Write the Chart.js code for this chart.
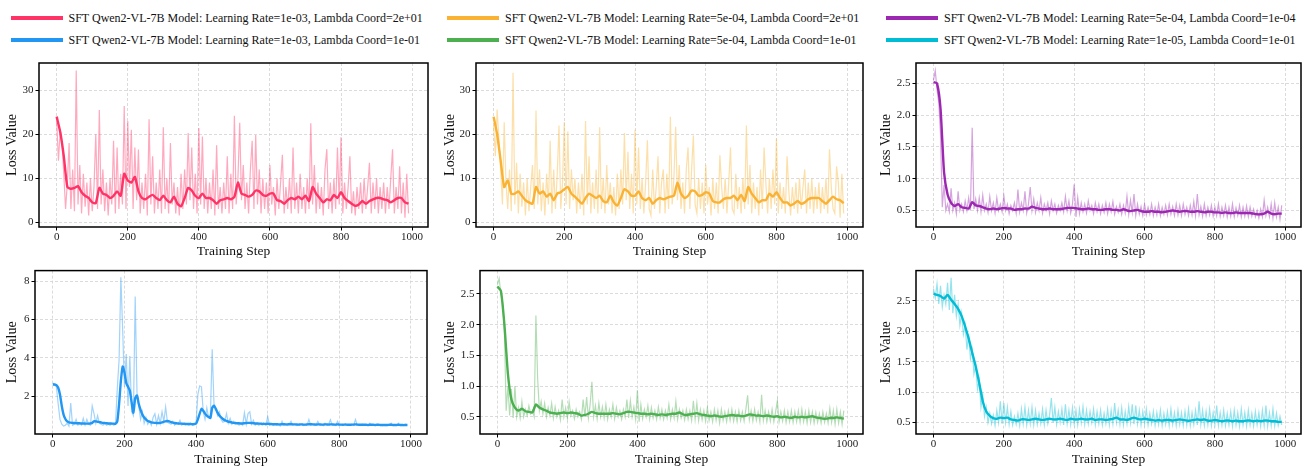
<!DOCTYPE html>
<html>
<head>
<meta charset="utf-8">
<script src="https://cdn.jsdelivr.net/npm/chart.js@4.4.1/dist/chart.umd.min.js"></script>
<style>
    body { margin: 0; background: #fff; }
    #wrap { position: relative; width: 1310px; height: 466px; overflow: hidden; font-family: 'Liberation Serif', 'Times New Roman', serif; }
    .leg { position: absolute; font-size: 12px; color: #111; white-space: nowrap; height: 14px; line-height: 14px; }
    .leg i { position: absolute; left: 0; top: 5px; width: 52px; height: 4px; }
    .leg span { position: absolute; left: 58px; top: 0; }
    canvas { position: absolute; }
</style>
</head>
<body>
<div id="wrap"></div>
<script>
// Runs, in panel order (row-major)
const runLabels = [
    'SFT Qwen2-VL-7B Model: Learning Rate=1e-03, Lambda Coord=2e+01',
    'SFT Qwen2-VL-7B Model: Learning Rate=5e-04, Lambda Coord=2e+01',
    'SFT Qwen2-VL-7B Model: Learning Rate=5e-04, Lambda Coord=1e-04',
    'SFT Qwen2-VL-7B Model: Learning Rate=1e-03, Lambda Coord=1e-01',
    'SFT Qwen2-VL-7B Model: Learning Rate=5e-04, Lambda Coord=1e-01',
    'SFT Qwen2-VL-7B Model: Learning Rate=1e-05, Lambda Coord=1e-01'
];
const runColors = ['#ff3366', '#f9b233', '#9c27b0', '#2196f3', '#4caf50', '#00bcd4'];

const xTicks = [0, 200, 400, 600, 800, 1000];
const yTicksLarge = [0, 10, 20, 30];
const yTicksBlue = [2, 4, 6, 8];
const yTicksSmall = [0.5, 1.0, 1.5, 2.0, 2.5];

// raw loss, one value every 5 steps (0..990)
const redRaw = [
    23,14,21,18,11,3,9,18,3,12,2.5,34.5,4,13,2,11,3.5,9,1.5,10,
    2.5,8,20,3,25.5,4,12,2.5,9,1.5,10,4,18.5,2,17,3,11,4,26.4,3,
    23,8,21,3,17,5,16.5,2,9,3,11,1.5,23.4,4,15,2,9,3,12,2,
    21.6,3,10,2,18,4,9,2,8,1.5,11,3,12,4,20.3,5,17,3,11,2,
    21.4,4,19.5,3,10,2,9,3,12,1.5,17.5,3,8,2,9,3,15,2,11,3,
    24.2,4,10,22.6,5,13,3,9,2,12,18.5,3,19.8,4,12,2,10,3,9,2,
    13,4,8,1.5,10,3,9,15.3,2,8,3,10,2,17,3,9,2,11,3,8,
    2,10,3,22.5,4,13,2,9,3,8,1.5,12,16.6,3,9,2,10,3,17,4,
    19.3,2,9,3,8,15,2,7,1.5,8,3,9,2,10,3,8,13.5,2,9,3,
    10,2,8,3,9,2,8,3,10,16.6,2,8,3,12.7,2,9,1,11,2
];
const orangeRaw = [
    22,15,25.6,19,12,4,22.7,9,3,12,2.5,34,4,13.5,2,11,3.5,9,1.5,10,
    2.5,8,13,3,25.4,4,12,2.5,9,1.5,11,4,18.5,2,12,3,11,22,3,9,
    22.8,4,20.6,3,12,5,10,2,9,3,11,1.5,23,4,15,2,9,3,12,2,
    21.6,3,10,2,13,4,9,2,8,1.5,11,3,12,4,20.3,5,16,3,11,2,
    21,4,17,3,10,2,9,18.6,3,1.5,12,3,8,15,2,9,12,2,11,3,
    24,4,10,21.7,5,13,3,9,2,12,17,3,12,19.7,4,2,10,3,9,2,
    13,4,8,1.5,10,3,9,2,15.2,8,3,10,2,9,17,3,2,11,3,8,
    2,10,3,22,4,13,2,9,3,8,1.5,12,3,17,9,2,10,3,12,4,
    19,2,9,3,8,2,15,7,1.5,8,3,9,2,10,3,8,12,2,9,3,
    10,2,8,3,9,2,8,3,10,2,16.6,8,3,2,12.7,9,1,11,2
];
const purpleRaw = [
    2.55,2.7,2.4,2.2,1.7,0.55,0.9,0.5,0.6,0.48,0.85,0.5,0.62,0.45,0.8,0.5,0.6,0.48,0.65,0.5,
    0.7,0.5,1.8,0.52,0.68,0.5,0.7,0.48,0.74,0.5,0.6,0.47,0.72,0.5,0.62,0.46,0.7,0.5,0.6,0.48,
    0.73,0.5,0.6,0.45,0.58,0.5,0.62,0.46,0.83,0.48,0.62,0.5,0.8,0.46,0.6,0.87,0.5,0.68,0.47,0.62,
    0.5,0.7,0.46,0.6,0.5,0.62,0.45,0.65,0.5,0.6,0.46,0.58,0.5,0.62,0.48,0.72,0.5,0.65,0.46,0.6,
    0.91,0.4,0.7,0.45,0.62,0.48,0.6,0.46,0.65,0.5,0.58,0.45,0.62,0.48,0.6,0.45,0.58,0.47,0.62,0.45,
    0.6,0.48,0.64,0.44,0.56,0.47,0.6,0.44,0.58,0.46,0.72,0.44,0.66,0.47,0.76,0.42,0.6,0.44,0.56,0.42,
    0.6,0.43,0.55,0.44,0.6,0.42,0.55,0.43,0.6,0.42,0.55,0.44,0.58,0.43,0.6,0.44,0.56,0.42,0.6,0.43,
    0.58,0.42,0.6,0.44,0.55,0.42,0.58,0.43,0.64,0.42,0.76,0.43,0.56,0.41,0.6,0.42,0.55,0.43,0.58,0.41,
    0.55,0.42,0.6,0.41,0.55,0.42,0.58,0.4,0.55,0.41,0.6,0.4,0.54,0.42,0.58,0.4,0.55,0.41,0.57,0.4,
    0.55,0.41,0.52,0.4,0.5,0.38,0.52,0.4,0.66,0.42,0.55,0.4,0.6,0.38,0.62,0.4,0.55,0.36,0.58
];
const blueRaw = [
    2.7,2.6,2.5,1.6,0.8,0.55,0.45,0.5,0.6,0.45,1.65,0.5,0.55,0.8,0.5,0.6,0.5,0.85,0.5,0.8,
    0.55,0.5,1.5,1.1,0.6,1.0,0.6,0.55,0.5,0.6,0.5,0.55,0.5,0.6,0.5,0.55,2.4,3.9,8.2,5.5,
    2.5,4.2,1.5,4.1,1.2,1.0,7.2,2.2,1.5,0.8,1.2,0.6,0.9,0.55,0.7,0.5,0.9,1.1,0.55,1.0,
    0.6,1.2,0.7,1.45,0.65,0.6,0.55,0.7,0.5,0.6,0.55,0.75,0.5,0.6,0.5,0.55,0.5,0.6,0.5,0.55,
    0.6,2.1,2.55,2.5,1.2,0.8,1.4,0.9,1.0,4.45,1.6,1.4,1.0,1.2,0.8,0.65,0.7,1.1,0.6,0.85,
    0.55,0.7,0.55,0.6,0.5,0.6,0.5,1.15,0.55,1.1,1.2,0.55,0.75,0.5,0.6,0.5,0.55,0.5,0.55,0.5,
    0.95,0.5,0.55,0.48,0.55,0.5,0.52,0.45,0.7,0.5,0.52,0.48,0.55,0.7,0.5,0.55,0.48,0.52,0.5,0.55,
    0.48,0.52,0.5,0.8,0.5,0.55,0.48,0.52,0.7,0.5,0.55,0.48,0.6,0.5,0.55,0.78,0.5,0.55,0.48,0.7,
    0.5,0.52,0.48,0.55,0.5,0.52,0.48,0.55,0.5,0.8,0.5,0.52,0.48,0.55,0.5,0.52,0.48,0.6,0.5,0.52,
    0.48,0.55,0.5,0.52,0.48,0.5,0.48,0.52,0.5,0.6,0.48,0.52,0.5,0.6,0.48,0.52,0.48,0.55,0.5
];
const greenRaw = [
    2.65,2.75,2.5,2.35,1.9,0.6,1.0,0.52,0.95,0.48,1.0,0.5,0.65,0.48,0.75,0.5,0.62,0.52,0.68,0.55,
    0.6,0.5,2.15,1.12,0.6,0.75,0.55,0.72,0.5,0.65,0.52,0.72,0.48,0.66,0.5,0.6,0.45,0.78,0.5,0.65,
    0.48,0.74,0.52,0.6,0.47,0.62,0.5,0.58,0.46,0.78,0.5,0.82,0.48,0.7,1.07,0.5,0.68,0.47,0.72,0.5,
    0.66,0.48,0.7,0.46,0.62,0.5,0.7,0.47,0.65,0.5,0.6,0.46,0.62,0.5,0.78,0.48,0.76,0.5,0.66,0.46,
    0.93,0.42,0.7,0.47,0.62,0.5,0.68,0.46,0.65,0.48,0.6,0.46,0.66,0.48,0.62,0.46,0.6,0.48,0.7,0.46,
    0.62,0.48,0.75,0.46,0.62,0.48,0.6,0.45,0.62,0.46,0.6,0.44,0.76,0.46,0.72,0.44,0.62,0.45,0.6,0.43,
    0.65,0.44,0.58,0.42,0.62,0.44,0.6,0.4,0.62,0.44,0.58,0.42,0.6,0.44,0.62,0.43,0.58,0.42,0.6,0.44,
    0.58,0.43,0.62,0.85,0.45,0.6,0.43,0.62,0.44,0.58,0.42,0.86,0.44,0.6,0.42,0.58,0.43,0.62,0.42,0.58,
    0.76,0.42,0.58,0.43,0.6,0.41,0.58,0.42,0.6,0.41,0.58,0.42,0.6,0.41,0.62,0.42,0.58,0.4,0.6,0.41,
    0.58,0.4,0.57,0.41,0.55,0.4,0.58,0.41,0.55,0.4,0.64,0.41,0.6,0.38,0.62,0.4,0.58,0.38,0.6
];
const cyanRaw = [
    2.7,2.55,2.78,2.45,2.75,2.4,2.6,2.45,2.8,2.35,2.88,2.3,2.6,2.25,2.45,2.1,2.3,1.95,2.1,1.7,
    1.95,1.55,1.7,1.3,1.45,1.05,1.2,0.75,0.95,0.6,0.75,0.5,0.65,0.48,0.62,0.45,0.7,0.5,0.85,0.48,
    0.82,0.5,0.75,0.47,0.68,0.46,0.6,0.47,0.65,0.45,0.72,0.48,0.75,0.46,0.7,0.48,0.75,0.46,0.7,0.47,
    0.65,0.48,0.72,0.46,0.7,0.48,0.62,0.9,0.5,0.75,0.47,0.68,0.5,0.72,0.46,0.8,0.48,0.7,0.47,0.74,
    0.48,0.7,0.46,0.72,0.5,0.76,0.47,0.7,0.48,0.68,0.5,0.72,0.46,0.68,0.48,0.7,0.46,0.65,0.48,0.72,
    0.46,0.7,0.48,0.82,0.5,0.7,0.47,0.74,0.46,0.68,0.48,0.76,0.5,0.8,0.47,0.78,0.48,0.7,0.46,0.68,
    0.48,0.72,0.46,0.65,0.48,0.68,0.45,0.66,0.47,0.7,0.45,0.65,0.47,0.68,0.45,0.72,0.47,0.66,0.45,0.7,
    0.47,0.66,0.45,0.68,0.46,0.72,0.45,0.66,0.47,0.7,0.46,0.85,0.47,0.7,0.45,0.68,0.46,0.72,0.45,0.66,
    0.47,0.78,0.45,0.66,0.46,0.7,0.45,0.65,0.46,0.68,0.44,0.7,0.46,0.66,0.44,0.72,0.46,0.66,0.44,0.7,
    0.46,0.65,0.44,0.68,0.46,0.66,0.44,0.7,0.45,0.78,0.44,0.66,0.45,0.72,0.44,0.65,0.45,0.6,0.46
];

// smoothed loss, one value every 10 steps (blue: every 5 steps)
const redSmooth = [
    24,20.5,15,8,7.6,7.8,8.2,6.8,6,5.5,
    4.5,4.3,7.8,6.5,6.2,5.5,6,7,6,11,
    9.5,9,10.3,7,5.5,5.2,5.8,6.2,5.5,5,
    6,5,4.5,5.8,4.2,3.6,5.5,7.8,7.2,6,
    5.5,6.5,5.5,5.5,5,4.2,5,5.2,5.5,5.2,
    5.8,9,6.5,6.2,5.8,6.2,7.2,7,6.2,6,
    6.5,6.5,5,4.8,4.2,5,5.5,5.2,5.8,5.2,
    6,4.8,8,6.5,5.5,4.5,5.2,5,6.2,5.5,
    6.8,5.5,4.8,4.2,3.7,4,4.8,4.2,4.8,5.2,
    5.5,5.5,5.2,5,4.5,5,5.5,5.5,4.5,4.2
];
const orangeSmooth = [
    24,20,14,8,9.5,6.5,6.5,7,6,5,
    4.5,4.2,8,6.5,7,5.8,6.5,5,6.5,6.8,
    7.5,8,6.5,5.8,5,4.2,5.5,6.5,6,5.5,
    6,4.8,4.5,6,4.5,3.8,5.5,7.5,7,6,
    6,7,5.5,5,5.5,4.2,5,5.5,5.2,5.5,
    5.8,6,9,6.5,5.5,6,7.2,7,6,6.2,
    6.8,6.5,4.8,4.5,4.5,5.2,5.5,5.5,6,5,
    6.2,4.8,8,6.5,5.5,4.5,5,5,6.5,5.8,
    6.8,5.5,4.5,4.5,3.8,4.2,4.8,4.2,4.5,5.2,
    5.5,5.5,5.5,4.8,4.2,5,5.8,5.2,5,4.3
];
const purpleSmooth = [
    2.52,2.5,2.1,1.1,0.75,0.62,0.57,0.6,0.55,0.54,
    0.53,0.63,0.58,0.57,0.55,0.53,0.52,0.53,0.52,0.53,
    0.54,0.53,0.53,0.51,0.52,0.52,0.53,0.53,0.56,0.54,
    0.53,0.52,0.52,0.53,0.52,0.52,0.52,0.53,0.54,0.54,
    0.54,0.53,0.52,0.52,0.53,0.52,0.52,0.51,0.51,0.52,
    0.52,0.51,0.51,0.5,0.52,0.5,0.49,0.5,0.51,0.49,
    0.48,0.48,0.49,0.48,0.48,0.47,0.48,0.49,0.5,0.49,
    0.48,0.49,0.49,0.48,0.48,0.49,0.48,0.47,0.48,0.48,
    0.47,0.47,0.46,0.47,0.46,0.46,0.47,0.46,0.46,0.46,
    0.46,0.45,0.44,0.44,0.45,0.48,0.45,0.44,0.45,0.45
];
const blueSmooth = [
    2.62,2.62,2.58,2.45,2.1,1.5,1.05,0.82,0.7,0.65,0.63,0.62,0.61,0.6,0.6,0.6,0.59,0.59,0.58,0.58,
    0.58,0.59,0.62,0.7,0.7,0.68,0.66,0.64,0.62,0.61,0.6,0.59,0.59,0.58,0.58,0.57,0.7,1.6,2.8,3.55,
    3.25,2.7,2.5,2.3,1.7,1.15,1.9,2.05,1.6,1.3,1.05,0.9,0.8,0.72,0.68,0.65,0.63,0.62,0.61,0.61,
    0.62,0.64,0.68,0.7,0.72,0.7,0.66,0.63,0.61,0.6,0.59,0.58,0.58,0.57,0.57,0.56,0.56,0.56,0.55,0.56,
    0.58,0.8,1.1,1.35,1.25,1.1,1.0,0.92,0.88,1.4,1.52,1.35,1.15,1.0,0.9,0.82,0.76,0.72,0.68,0.66,
    0.64,0.62,0.61,0.6,0.6,0.59,0.59,0.6,0.61,0.62,0.62,0.61,0.6,0.59,0.59,0.58,0.58,0.57,0.57,0.56,
    0.57,0.56,0.56,0.55,0.55,0.55,0.54,0.54,0.55,0.55,0.54,0.54,0.55,0.55,0.54,0.54,0.54,0.53,0.54,0.54,
    0.53,0.53,0.54,0.55,0.55,0.54,0.54,0.53,0.54,0.54,0.53,0.53,0.54,0.54,0.53,0.54,0.54,0.53,0.53,0.54,
    0.53,0.53,0.52,0.53,0.53,0.52,0.52,0.53,0.53,0.54,0.53,0.52,0.52,0.52,0.52,0.52,0.51,0.52,0.52,0.52,
    0.51,0.52,0.52,0.51,0.51,0.51,0.51,0.51,0.52,0.52,0.51,0.51,0.51,0.52,0.51,0.51,0.5,0.51,0.51
];
const greenSmooth = [
    2.62,2.55,2.0,1.2,0.78,0.65,0.6,0.63,0.59,0.58,
    0.57,0.7,0.65,0.62,0.6,0.57,0.56,0.55,0.56,0.57,
    0.56,0.57,0.56,0.55,0.52,0.53,0.55,0.58,0.56,0.55,
    0.55,0.55,0.55,0.56,0.55,0.54,0.56,0.58,0.58,0.57,
    0.56,0.55,0.55,0.54,0.55,0.54,0.53,0.54,0.53,0.54,
    0.55,0.55,0.57,0.54,0.53,0.54,0.55,0.56,0.54,0.53,
    0.52,0.51,0.52,0.51,0.5,0.51,0.52,0.53,0.52,0.52,
    0.51,0.52,0.54,0.53,0.52,0.52,0.51,0.52,0.51,0.5,
    0.51,0.49,0.5,0.49,0.48,0.5,0.49,0.5,0.49,0.5,
    0.51,0.49,0.48,0.47,0.47,0.48,0.48,0.49,0.48,0.47
];
const cyanSmooth = [
    2.62,2.6,2.58,2.54,2.6,2.52,2.45,2.37,2.25,2.08,
    1.88,1.65,1.42,1.15,0.85,0.68,0.61,0.57,0.56,0.58,
    0.57,0.58,0.55,0.54,0.53,0.55,0.55,0.54,0.55,0.56,
    0.55,0.54,0.55,0.56,0.55,0.55,0.56,0.55,0.54,0.56,
    0.55,0.55,0.56,0.55,0.55,0.56,0.54,0.55,0.55,0.54,
    0.55,0.56,0.58,0.55,0.55,0.54,0.56,0.58,0.56,0.55,
    0.56,0.55,0.54,0.53,0.54,0.53,0.54,0.54,0.53,0.54,
    0.55,0.54,0.53,0.53,0.54,0.55,0.54,0.55,0.53,0.53,
    0.54,0.53,0.52,0.53,0.53,0.52,0.53,0.52,0.52,0.53,
    0.53,0.52,0.53,0.52,0.53,0.53,0.52,0.52,0.51,0.51
];

const rawSeries = [redRaw, orangeRaw, purpleRaw, blueRaw, greenRaw, cyanRaw];
const smoothSeries = [redSmooth, orangeSmooth, purpleSmooth, blueSmooth, greenSmooth, cyanSmooth];
const smoothSteps = [10, 10, 10, 5, 10, 10];
const rawStep = 5;

const FONT = "'Liberation Serif', 'Times New Roman', serif";
const wrap = document.getElementById('wrap');

// panel geometry: canvas rect and plot box (page pixels)
const panels = [
    { cx: 0,   cy: 50,  cw: 436, ch: 212, L: 39,  R: 428,  T: 63,  B: 227, ty: 12.7, tx: 10.3, yMin: -1.1, yMax: 36.2, yTicks: yTicksLarge, dec: 0 },
    { cx: 436, cy: 50,  cw: 434, ch: 212, L: 476, R: 863,  T: 63,  B: 227, ty: 450,  tx: 10.3, yMin: -1.1, yMax: 36.2, yTicks: yTicksLarge, dec: 0 },
    { cx: 870, cy: 50,  cw: 440, ch: 212, L: 916, R: 1301, T: 63,  B: 227, ty: 886.7, tx: 10.3, yMin: 0.24, yMax: 2.82, yTicks: yTicksSmall, dec: 1 },
    { cx: 0,   cy: 262, cw: 436, ch: 204, L: 35,  R: 427,  T: 270, B: 434, ty: 12.7, tx: 7, yMin: 0.04, yMax: 8.55, yTicks: yTicksBlue, dec: 0 },
    { cx: 436, cy: 262, cw: 434, ch: 204, L: 480, R: 863,  T: 270, B: 434, ty: 450,  tx: 7, yMin: 0.22, yMax: 2.88, yTicks: yTicksSmall, dec: 1 },
    { cx: 870, cy: 262, cw: 440, ch: 204, L: 916, R: 1301, T: 270, B: 434, ty: 886.7, tx: 7, yMin: 0.31, yMax: 3.0, yTicks: yTicksSmall, dec: 1 }
];

// legend: matplotlib fills columns first
const legendOrder = [0, 3, 1, 4, 2, 5];
const legendCols = [10.5, 447, 886];
const legendRows = [11, 33.4];

legendOrder.forEach((run, k) => {
    const item = document.createElement('div');
    item.className = 'leg';
    item.style.left = legendCols[Math.floor(k / 2)] + 'px';
    item.style.top = legendRows[k % 2] + 'px';
    item.innerHTML = '<i style="background:' + runColors[run] + '"></i><span>' + runLabels[run] + '</span>';
    wrap.appendChild(item);
});

function toPoints(values, step) {
    return values.map((v, i) => ({ x: i * step, y: v }));
}

function withAlpha(hex, a) {
    const n = parseInt(hex.slice(1), 16);
    return 'rgba(' + (n >> 16) + ',' + ((n >> 8) & 255) + ',' + (n & 255) + ',' + a + ')';
}

const framePlugin = {
    id: 'frame',
    afterDraw(chart) {
        const { ctx, chartArea: a } = chart;
        ctx.save();
        ctx.setLineDash([]);
        ctx.strokeStyle = '#000';
        ctx.lineWidth = 1.5;
        ctx.strokeRect(a.left, a.top, a.right - a.left, a.bottom - a.top);
        ctx.restore();
    }
};

function makePanel(idx) {
    const g = panels[idx];
    const canvas = document.createElement('canvas');
    canvas.width = g.cw;
    canvas.height = g.ch;
    canvas.style.left = g.cx + 'px';
    canvas.style.top = g.cy + 'px';
    canvas.style.width = g.cw + 'px';
    canvas.style.height = g.ch + 'px';
    wrap.appendChild(canvas);

    const color = runColors[idx];
    const gridOpts = { color: '#d2d2d2', lineWidth: 0.8, tickLength: 3.5, tickColor: '#000', tickWidth: 1 };
    const borderOpts = { display: false, dash: [3, 2] };
    const tickFont = { family: FONT, size: 11 };

    new Chart(canvas, {
        type: 'line',
        data: {
            datasets: [
                {
                    data: toPoints(smoothSeries[idx], smoothSteps[idx]),
                    borderColor: color,
                    borderWidth: 2.4,
                    pointRadius: 0,
                    tension: 0.2
                },
                {
                    data: toPoints(rawSeries[idx], rawStep),
                    borderColor: withAlpha(color, 0.42),
                    borderWidth: 1.2,
                    pointRadius: 0,
                    tension: 0
                }
            ]
        },
        options: {
            responsive: false,
            animation: false,
            devicePixelRatio: 1,
            layout: { padding: { left: 0, bottom: 0, top: g.T - g.cy, right: g.cx + g.cw - g.R } },
            plugins: { legend: { display: false }, tooltip: { enabled: false } },
            scales: {
                x: {
                    type: 'linear',
                    min: -49.75,
                    max: 1044.75,
                    afterBuildTicks: s => { s.ticks = xTicks.map(v => ({ value: v })); },
                    afterFit: s => { s.height = g.cy + g.ch - g.B; },
                    ticks: { padding: 0, maxRotation: 0, autoSkip: false, color: '#222', font: tickFont, callback: v => String(v) },
                    grid: gridOpts,
                    border: borderOpts,
                    title: {
                        display: true, text: 'Training Step', color: '#111',
                        font: { family: FONT, size: 13.5, lineHeight: 1 },
                        padding: { top: 0, bottom: g.tx - 6.75 }
                    }
                },
                y: {
                    min: g.yMin,
                    max: g.yMax,
                    afterBuildTicks: s => { s.ticks = g.yTicks.map(v => ({ value: v })); },
                    afterFit: s => { s.width = g.L - g.cx; },
                    ticks: { padding: 2, color: '#222', font: tickFont, callback: v => v.toFixed(g.dec) },
                    grid: gridOpts,
                    border: borderOpts,
                    title: {
                        display: true, text: 'Loss Value', color: '#111',
                        font: { family: FONT, size: 14, lineHeight: 1 },
                        padding: { top: g.ty - g.cx - 7, bottom: 0 }
                    }
                }
            }
        },
        plugins: [framePlugin]
    });
}

panels.forEach((p, i) => makePanel(i));
</script>
</body>
</html>
